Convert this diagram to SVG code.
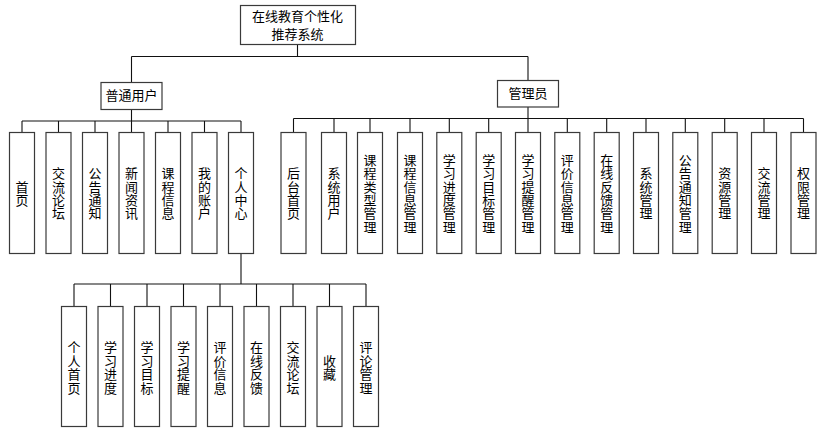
<svg xmlns="http://www.w3.org/2000/svg" width="824" height="433" viewBox="0 0 824 433">
<style>
.box{fill:#fff;stroke:#3a3a3a;stroke-width:1.2}
.c{fill:none;stroke:#111;stroke-width:1.1}
.t{font-family:"Noto Sans CJK SC","Noto Sans",sans-serif;font-size:13px;fill:#000;text-anchor:middle}
.v{font-family:"Noto Sans CJK SC","Noto Sans",sans-serif;font-size:13px;fill:#000;text-anchor:middle;writing-mode:vertical-rl;letter-spacing:0.4px}
</style>
<rect width="824" height="433" fill="#fff"/>
<g id="connectors">
<path class="c" d="M297.5 44.5V56.5M131.5 56.5H528M131.5 56.5V82.5M528 56.5V80.5"/>
<path class="c" d="M131.5 109.5V121M22 121H241M22 121V132.5M58.5 121V132.5M95 121V132.5M131.5 121V132.5M168 121V132.5M204.5 121V132.5M241 121V132.5"/>
<path class="c" d="M528 107V118.5M293.5 118.5H803.5M293.5 118.5V132.5M334 118.5V132.5M370 118.5V132.5M410 118.5V132.5M449.3 118.5V132.5M488.7 118.5V132.5M528 118.5V132.5M567.3 118.5V132.5M606.7 118.5V132.5M646 118.5V132.5M685.3 118.5V132.5M724.7 118.5V132.5M764 118.5V132.5M803.5 118.5V132.5"/>
<path class="c" d="M241 253.5V284M74 284H366M74 284V306.5M110.5 284V306.5M147 284V306.5M183.5 284V306.5M220 284V306.5M256.5 284V306.5M293 284V306.5M329.5 284V306.5M366 284V306.5"/>
</g>
<g id="root"><rect class="box" x="240.5" y="5.5" width="115" height="39"/><text class="t" x="297.5" y="20.7">在线教育个性化</text><text class="t" x="297.5" y="38.6">推荐系统</text></g>
<g id="user"><rect class="box" x="101" y="82.5" width="61" height="27"/><text class="t" x="131.5" y="99.9">普通用户</text></g>
<g id="admin"><rect class="box" x="497.5" y="80.5" width="61" height="26.5"/><text class="t" x="528" y="98.1">管理员</text></g>

<g id="u1"><rect class="box" x="9.5" y="132.5" width="25" height="121"/><text class="v" x="22" y="193.5">首页</text></g>
<g id="u2"><rect class="box" x="46" y="132.5" width="25" height="121"/><text class="v" x="58.5" y="193.5">交流论坛</text></g>
<g id="u3"><rect class="box" x="82.5" y="132.5" width="25" height="121"/><text class="v" x="95" y="193.5">公告通知</text></g>
<g id="u4"><rect class="box" x="119" y="132.5" width="25" height="121"/><text class="v" x="131.5" y="193.5">新闻资讯</text></g>
<g id="u5"><rect class="box" x="155.5" y="132.5" width="25" height="121"/><text class="v" x="168" y="193.5">课程信息</text></g>
<g id="u6"><rect class="box" x="192" y="132.5" width="25" height="121"/><text class="v" x="204.5" y="193.5">我的账户</text></g>
<g id="u7"><rect class="box" x="228.5" y="132.5" width="25" height="121"/><text class="v" x="241" y="193.5">个人中心</text></g>

<g id="a1"><rect class="box" x="281" y="132.5" width="25" height="121"/><text class="v" x="293.5" y="193.5">后台首页</text></g>
<g id="a2"><rect class="box" x="321.5" y="132.5" width="25" height="121"/><text class="v" x="334" y="193.5">系统用户</text></g>
<g id="a3"><rect class="box" x="357.5" y="132.5" width="25" height="121"/><text class="v" x="370" y="193.5">课程类型管理</text></g>
<g id="a4"><rect class="box" x="397.5" y="132.5" width="25" height="121"/><text class="v" x="410" y="193.5">课程信息管理</text></g>
<g id="a5"><rect class="box" x="436.8" y="132.5" width="25" height="121"/><text class="v" x="449.3" y="193.5">学习进度管理</text></g>
<g id="a6"><rect class="box" x="476.2" y="132.5" width="25" height="121"/><text class="v" x="488.7" y="193.5">学习目标管理</text></g>
<g id="a7"><rect class="box" x="515.5" y="132.5" width="25" height="121"/><text class="v" x="528" y="193.5">学习提醒管理</text></g>
<g id="a8"><rect class="box" x="554.8" y="132.5" width="25" height="121"/><text class="v" x="567.3" y="193.5">评价信息管理</text></g>
<g id="a9"><rect class="box" x="594.2" y="132.5" width="25" height="121"/><text class="v" x="606.7" y="193.5">在线反馈管理</text></g>
<g id="a10"><rect class="box" x="633.5" y="132.5" width="25" height="121"/><text class="v" x="646" y="193.5">系统管理</text></g>
<g id="a11"><rect class="box" x="672.8" y="132.5" width="25" height="121"/><text class="v" x="685.3" y="193.5">公告通知管理</text></g>
<g id="a12"><rect class="box" x="712.2" y="132.5" width="25" height="121"/><text class="v" x="724.7" y="193.5">资源管理</text></g>
<g id="a13"><rect class="box" x="751.5" y="132.5" width="25" height="121"/><text class="v" x="764" y="193.5">交流管理</text></g>
<g id="a14"><rect class="box" x="791" y="132.5" width="25" height="121"/><text class="v" x="803.5" y="193.5">权限管理</text></g>

<g id="p1"><rect class="box" x="61.5" y="306.5" width="25" height="120"/><text class="v" x="74" y="367.7">个人首页</text></g>
<g id="p2"><rect class="box" x="98" y="306.5" width="25" height="120"/><text class="v" x="110.5" y="367.7">学习进度</text></g>
<g id="p3"><rect class="box" x="134.5" y="306.5" width="25" height="120"/><text class="v" x="147" y="367.7">学习目标</text></g>
<g id="p4"><rect class="box" x="171" y="306.5" width="25" height="120"/><text class="v" x="183.5" y="367.7">学习提醒</text></g>
<g id="p5"><rect class="box" x="207.5" y="306.5" width="25" height="120"/><text class="v" x="220" y="367.7">评价信息</text></g>
<g id="p6"><rect class="box" x="244" y="306.5" width="25" height="120"/><text class="v" x="256.5" y="367.7">在线反馈</text></g>
<g id="p7"><rect class="box" x="280.5" y="306.5" width="25" height="120"/><text class="v" x="293" y="367.7">交流论坛</text></g>
<g id="p8"><rect class="box" x="317" y="306.5" width="25" height="120"/><text class="v" x="329.5" y="367.7">收藏</text></g>
<g id="p9"><rect class="box" x="353.5" y="306.5" width="25" height="120"/><text class="v" x="366" y="367.7">评论管理</text></g>
</svg>
